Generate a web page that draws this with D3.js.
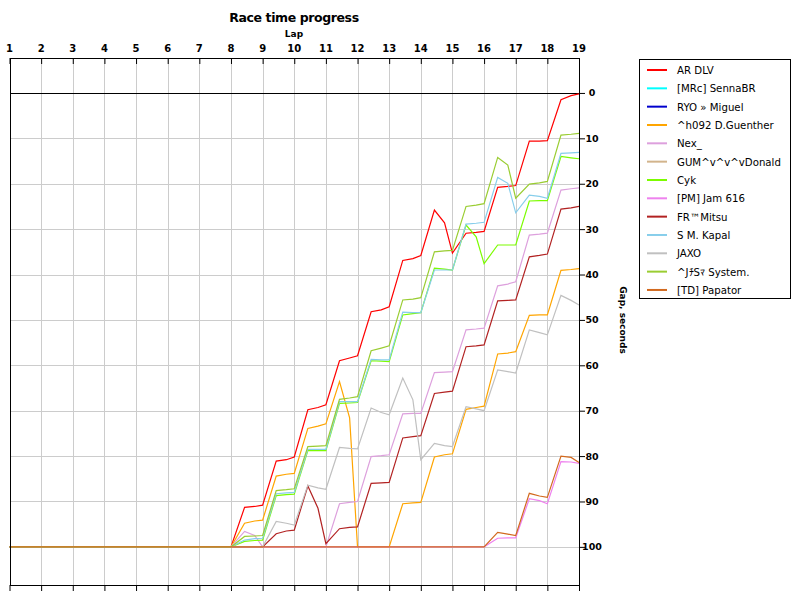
<!DOCTYPE html>
<html>
<head>
<meta charset="utf-8">
<script src="https://cdn.jsdelivr.net/npm/d3@7"></script>
<style>
  body { margin: 0; background: #fff; }
  text { font-family: Verdana, "DejaVu Sans", sans-serif; }
</style>
</head>
<body>
<script>
//lap ticks along the top
var lapTicks = [1,2,3,4,5,6,7,8,9,10,11,12,13,14,15,16,17,18,19];

//gap ticks on the right
var gapTicks = [0,10,20,30,40,50,60,70,80,90,100];

//positions (in laps) of every timing point
var sectorLaps = [1,2,3,4,5,6,7,8,
    8.43,8.75,9, 9.43,9.75,10, 10.43,10.75,11, 11.43,11.75,12,
    12.43,12.75,13, 13.43,13.75,14, 14.43,14.75,15, 15.43,15.75,16,
    16.43,16.75,17, 17.43,17.75,18, 18.43,18.75,19];

var drivers = ["AR DLV", "[MRc] SennaBR", "RYO \u00bb Miguel", "^h092 D.Guenther", "Nex_",
    "GUM^v^v^vDonald", "Cyk", "[PM] Jam 616", "FR\u2122Mitsu", "S M. Kapal", "JAXO",
    "^J\uff81S\uff8f System.", "[TD] Papator"];

var colors = ["#ff0000", "#00ffff", "#0000cd", "#ffa500", "#dda0dd", "#d2b48c", "#7cfc00",
    "#ee82ee", "#b22222", "#87ceeb", "#c0c0c0", "#9acd32", "#d2691e"];

//gap to the leader in seconds, one value per timing point
var arDlv = [100,100,100,100,100,100,100,100,
    91.3,91.1,90.8, 81.1,80.8,80.2, 69.8,69.3,68.7, 59.0,58.4,57.9,
    48.2,47.8,47.1, 36.9,36.5,35.8, 25.8,28.6,35.3, 30.9,30.7,30.5,
    20.8,20.6,20.4, 10.6,10.6,10.5, 1.5,0.6,0.2];
var sennaBR = [100,100,100,100,100,100,100,100];
var ryoMiguel = [100,100,100,100,100,100,100,100];
var guenther = [100,100,100,100,100,100,100,100,
    94.8,94.3,94.1, 84.4,84.0,83.8, 73.9,73.4,72.9, 63.6,71.6,100,
    100,100,100, 90.5,90.3,90.2, 80.2,79.7,79.5, 69.7,69.3,69.0,
    57.5,57.3,57.0, 49.0,48.9,48.9, 39.1,38.9,38.7];
var nex = [100,100,100,100,100,100,100,100,
    96.6,97.5,100, 100,100,100, 100,100,100, 90.5,90.2,90.0,
    80.1,79.9,79.7, 70.7,70.6,70.6, 61.6,61.5,61.4, 52.2,52.0,51.8,
    42.5,42.1,41.6, 31.3,31.1,30.9, 21.4,21.1,20.9];
var gumDonald = [100,100,100,100,100,100,100,100];
var cyk = [100,100,100,100,100,100,100,100,
    98.8,98.6,98.5, 88.7,88.5,88.4, 78.8,78.8,78.8, 68.4,68.3,68.2,
    59.0,59.1,59.2, 48.9,48.6,48.4, 38.6,38.8,39.0, 29.1,31.7,37.6,
    33.5,33.5,33.5, 23.8,23.7,23.7, 14.0,14.3,14.5];
var jam616 = [100,100,100,100,100,100,100,100,
    100,100,100, 100,100,100, 100,100,100, 100,100,100,
    100,100,100, 100,100,100, 100,100,100, 100,100,100,
    98.1,98.0,98.0, 89.4,89.8,90.5, 81.2,81.3,81.6];
var mitsu = [100,100,100,100,100,100,100,100,
    100,100,100, 97.1,96.5,96.3, 86.6,91.5,99.3, 96.0,95.7,95.6,
    86.0,85.9,85.8, 76.0,75.7,75.5, 66.2,65.9,65.7, 55.9,55.7,55.5,
    45.8,45.7,45.6, 36.1,35.8,35.5, 25.6,25.3,25.0];
var kapal = [100,100,100,100,100,100,100,100,
    98.5,98.2,98.1, 88.3,88.1,88.0, 78.5,78.5,78.5, 68.0,68.0,68.0,
    58.7,58.8,58.8, 48.3,48.4,48.4, 39.0,39.0,39.0, 28.9,28.7,28.5,
    18.6,19.9,26.4, 22.5,22.8,23.2, 13.3,13.2,13.1];
var jaxo = [100,100,100,100,100,100,100,100,
    100,100,100, 94.4,94.8,95.2, 86.4,87.0,87.3, 78.1,78.3,78.4,
    69.4,70.4,70.9, 62.8,67.6,80.8, 77.2,77.7,77.9, 69.1,69.6,70.0,
    61.0,61.4,61.7, 52.2,52.8,53.3, 44.6,45.7,46.7];
var system = [100,100,100,100,100,100,100,100,
    97.7,97.6,97.5, 87.6,87.4,87.2, 77.9,77.8,77.7, 67.5,67.2,66.9,
    56.8,56.2,55.7, 45.6,45.4,45.1, 35.0,34.8,34.7, 25.0,24.7,24.4,
    14.2,15.9,23.2, 20.1,19.8,19.5, 9.3,9.1,8.9];
var papator = [100,100,100,100,100,100,100,100,
    100,100,100, 100,100,100, 100,100,100, 100,100,100,
    100,100,100, 100,100,100, 100,100,100, 100,100,100,
    96.8,97.2,97.5, 88.2,88.8,89.1, 80.0,80.3,81.4];

var gaps = [arDlv, sennaBR, ryoMiguel, guenther, nex, gumDonald, cyk,
    jam616, mitsu, kapal, jaxo, system, papator];

window.onload = drawChart();

function drawChart(){
    var width = 800,
        height = 600;

    //plot frame
    var left = 10, right = 579, top = 58, bottom = 585;

    var svg = d3.select("body")
        .append("svg")
        .attr("width", width)
        .attr("height", height);

    var x = d3.scaleLinear()
        .domain([1, 19])
        .range([9.5, right]);

    //gap grows downward, leader at the top
    var y = d3.scaleLinear()
        .domain([-7.7, 108.4])
        .range([top, bottom]);

    //grid lines
    svg.append("g")
        .selectAll("line")
        .data(lapTicks.slice(1, -1))
        .enter()
        .append("line")
        .attr("x1", function(d){ return Math.round(x(d)) + 0.5; })
        .attr("x2", function(d){ return Math.round(x(d)) + 0.5; })
        .attr("y1", top)
        .attr("y2", bottom)
        .attr("stroke", "#cccccc");

    svg.append("g")
        .selectAll("line")
        .data(gapTicks.slice(1))
        .enter()
        .append("line")
        .attr("x1", left)
        .attr("x2", right)
        .attr("y1", function(d){ return Math.round(y(d)) + 0.5; })
        .attr("y2", function(d){ return Math.round(y(d)) + 0.5; })
        .attr("stroke", "#cccccc");

    //zero line
    svg.append("line")
        .attr("x1", left)
        .attr("x2", right)
        .attr("y1", Math.round(y(0)) + 0.5)
        .attr("y2", Math.round(y(0)) + 0.5)
        .attr("stroke", "#000");

    //driver lines, drawn in legend order
    var line = d3.line()
        .x(function(d){ return x(d[0]); })
        .y(function(d){ return y(d[1]); });

    svg.append("g")
        .selectAll("path")
        .data(gaps)
        .enter()
        .append("path")
        .attr("fill", "none")
        .attr("stroke-width", 1.2)
        .attr("stroke", function(d, i){ return colors[i]; })
        .attr("d", function(d){
            return line(d.map(function(v, j){ return [sectorLaps[j], v]; }));
        });

    //frame: left edge plus axes
    svg.append("line")
        .attr("x1", left + 0.5).attr("x2", left + 0.5)
        .attr("y1", top).attr("y2", bottom)
        .attr("stroke", "#000");

    var topAxis = d3.axisBottom(x)
        .tickValues(lapTicks)
        .tickSize(6)
        .tickFormat("");
    svg.append("g")
        .attr("transform", "translate(0," + top + ")")
        .call(topAxis)
        .call(function(g){ g.select(".domain").attr("d", "M" + left + ",0.5H" + right); });

    var bottomAxis = d3.axisBottom(x)
        .tickValues(lapTicks)
        .tickSize(6)
        .tickFormat("");
    svg.append("g")
        .attr("transform", "translate(0," + bottom + ")")
        .call(bottomAxis)
        .call(function(g){ g.select(".domain").attr("d", "M" + left + ",0.5H" + right); });

    var rightAxis = d3.axisRight(y)
        .tickValues(gapTicks)
        .tickSize(6)
        .tickFormat("");
    svg.append("g")
        .attr("transform", "translate(" + right + ",0)")
        .call(rightAxis)
        .call(function(g){ g.select(".domain").attr("d", "M0.5," + top + "V" + bottom); });

    //lap labels above the frame
    svg.append("g")
        .selectAll("text")
        .data(lapTicks)
        .enter()
        .append("text")
        .attr("x", function(d){ return x(d); })
        .attr("y", 52)
        .attr("text-anchor", "middle")
        .attr("font-size", "10px")
        .attr("font-weight", "bold")
        .text(function(d){ return d; });

    //gap labels on the right
    svg.append("g")
        .selectAll("text")
        .data(gapTicks)
        .enter()
        .append("text")
        .attr("x", 592)
        .attr("y", function(d){ return y(d) + 3.5; })
        .attr("text-anchor", "middle")
        .attr("font-size", "9.5px")
        .attr("font-weight", "bold")
        .text(function(d){ return d; });

    //titles
    svg.append("text")
        .attr("x", 294)
        .attr("y", 22)
        .attr("text-anchor", "middle")
        .attr("font-size", "12.5px")
        .attr("font-weight", "bold")
        .attr("letter-spacing", "-0.4px")
        .text("Race time progress");

    svg.append("text")
        .attr("x", 294)
        .attr("y", 37)
        .attr("text-anchor", "middle")
        .attr("font-size", "9px")
        .attr("font-weight", "bold")
        .text("Lap");

    svg.append("text")
        .attr("transform", "translate(620,320) rotate(90)")
        .attr("text-anchor", "middle")
        .attr("font-size", "9px")
        .attr("font-weight", "bold")
        .text("Gap, seconds");

    //legend
    var legend = svg.append("g");

    legend.append("rect")
        .attr("x", 639.5)
        .attr("y", 59.5)
        .attr("width", 151)
        .attr("height", 239)
        .attr("fill", "#fff")
        .attr("stroke", "#000");

    var items = legend.selectAll(".item")
        .data(drivers)
        .enter()
        .append("g")
        .attr("class", "item")
        .attr("transform", function(d, i){ return "translate(0," + (70 + i * 18.33) + ")"; });

    items.append("line")
        .attr("x1", 647)
        .attr("x2", 667)
        .attr("stroke-width", 2)
        .attr("stroke", function(d, i){ return colors[i]; });

    items.append("text")
        .attr("x", 677)
        .attr("y", 4)
        .attr("font-size", "10.2px")
        .attr("fill", "#000")
        .text(function(d){ return d; });
}
</script>
</body>
</html>
